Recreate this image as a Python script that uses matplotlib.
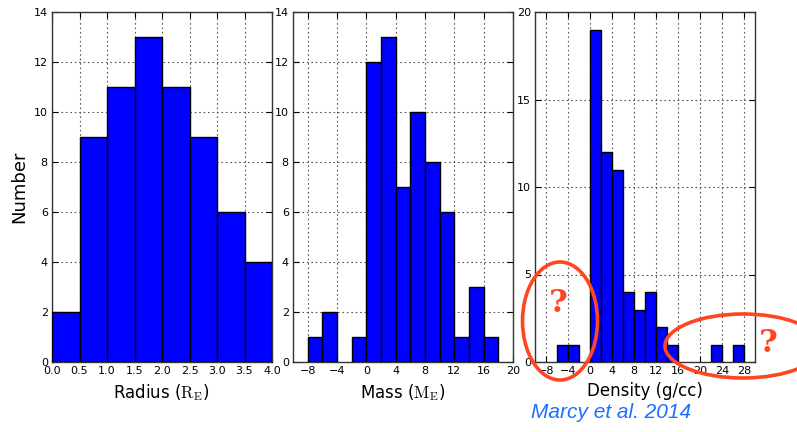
import matplotlib
matplotlib.use("Agg")
import matplotlib.pyplot as plt
from matplotlib.patches import Ellipse
import numpy as np

plt.rcParams['mathtext.fontset'] = 'cm'
plt.rcParams['font.family'] = ['DejaVu Sans']

# Data
radius_left = [0.0, 0.5, 1.0, 1.5, 2.0, 2.5, 3.0, 3.5]
radius_counts = [2, 9, 11, 13, 11, 9, 6, 4]

mass_left = [-8, -6, -4, -2, 0, 2, 4, 6, 8, 10, 12, 14, 16]
mass_counts = [1, 2, 0, 1, 12, 13, 7, 10, 8, 6, 1, 3, 1]

density_left = [-6, -4, -2, 0, 2, 4, 6, 8, 10, 12, 14, 16, 18, 20, 22, 24, 26]
density_counts = [1, 1, 0, 19, 12, 11, 4, 3, 4, 2, 1, 0, 0, 0, 1, 0, 1]

radius_ticks = [0.0, 0.5, 1.0, 1.5, 2.0, 2.5, 3.0, 3.5, 4.0]
mass_ticks = [-8, -4, 0, 4, 8, 12, 16, 20]
density_ticks = [-8, -4, 0, 4, 8, 12, 16, 20, 24, 28]

W, H = 797, 432
fig = plt.figure(figsize=(W / 100, H / 100), dpi=100)

axw = 220 / W
axh = 350 / H
bot = 1 - 362 / H
lefts = [52 / W, 293 / W, 535 / W]

def style(ax):
    ax.grid(True, linestyle=(0, (1.5, 2.5)), color='0.35', linewidth=0.8)
    ax.set_axisbelow(True)
    ax.tick_params(direction='in', top=True, right=True, labelsize=8, length=4,
                   width=0.8, pad=3)
    for s in ax.spines.values():
        s.set_linewidth(1.0)
        s.set_color('0.2')

def bars(ax, left, counts, width):
    l = [a for a, c in zip(left, counts) if c > 0]
    c = [c for c in counts if c > 0]
    ax.bar(l, c, width=width, align='edge', color='#0000ff', edgecolor='black',
           linewidth=1.0, zorder=3)

ax1 = fig.add_axes([lefts[0], bot, axw, axh])
bars(ax1, radius_left, radius_counts, 0.5)
ax1.set_xlim(0, 4)
ax1.set_ylim(0, 14)
ax1.set_xticks(radius_ticks)
ax1.set_xticklabels([f"{t:.1f}" for t in radius_ticks])
ax1.set_yticks(range(0, 15, 2))
ax1.set_xlabel(r'Radius ($\mathrm{R_E}$)', fontsize=12)
ax1.set_ylabel('Number', fontsize=13)
style(ax1)

ax2 = fig.add_axes([lefts[1], bot, axw, axh])
bars(ax2, mass_left, mass_counts, 2)
ax2.set_xlim(-10, 20)
ax2.set_ylim(0, 14)
ax2.set_xticks(mass_ticks)
ax2.set_yticks(range(0, 15, 2))
ax2.set_xlabel(r'Mass ($\mathrm{M_E}$)', fontsize=12)
style(ax2)

ax3 = fig.add_axes([lefts[2], bot, axw, axh])
bars(ax3, density_left, density_counts, 2)
ax3.set_xlim(-10, 30)
ax3.set_ylim(0, 20)
ax3.set_xticks(density_ticks)
ax3.set_yticks(range(0, 21, 5))
ax3.set_xlabel('Density (g/cc)', fontsize=12)
style(ax3)

red = '#ff4620'
e1 = Ellipse((560 / 100, (H - 321) / 100), 0.75, 1.18, fill=False, edgecolor=red,
             linewidth=2.6, transform=fig.dpi_scale_trans, zorder=10)
e2 = Ellipse((743 / 100, (H - 346) / 100), 1.56, 0.64, fill=False, edgecolor=red,
             linewidth=2.6, transform=fig.dpi_scale_trans, zorder=10)
fig.add_artist(e1)
fig.add_artist(e2)

fig.text(558 / W, 1 - 304 / H, '?', color=red, fontsize=23, fontweight='bold',
         family='DejaVu Serif', ha='center', va='center')
fig.text(768 / W, 1 - 343 / H, '?', color=red, fontsize=23, fontweight='bold',
         family='DejaVu Serif', ha='center', va='center')

fig.text(611 / W, 1 - 412 / H, 'Marcy et al. 2014', color='#1a6fff', fontsize=15,
         style='italic', family='Liberation Sans', ha='center', va='center')

fig.savefig('out.png', dpi=100)
